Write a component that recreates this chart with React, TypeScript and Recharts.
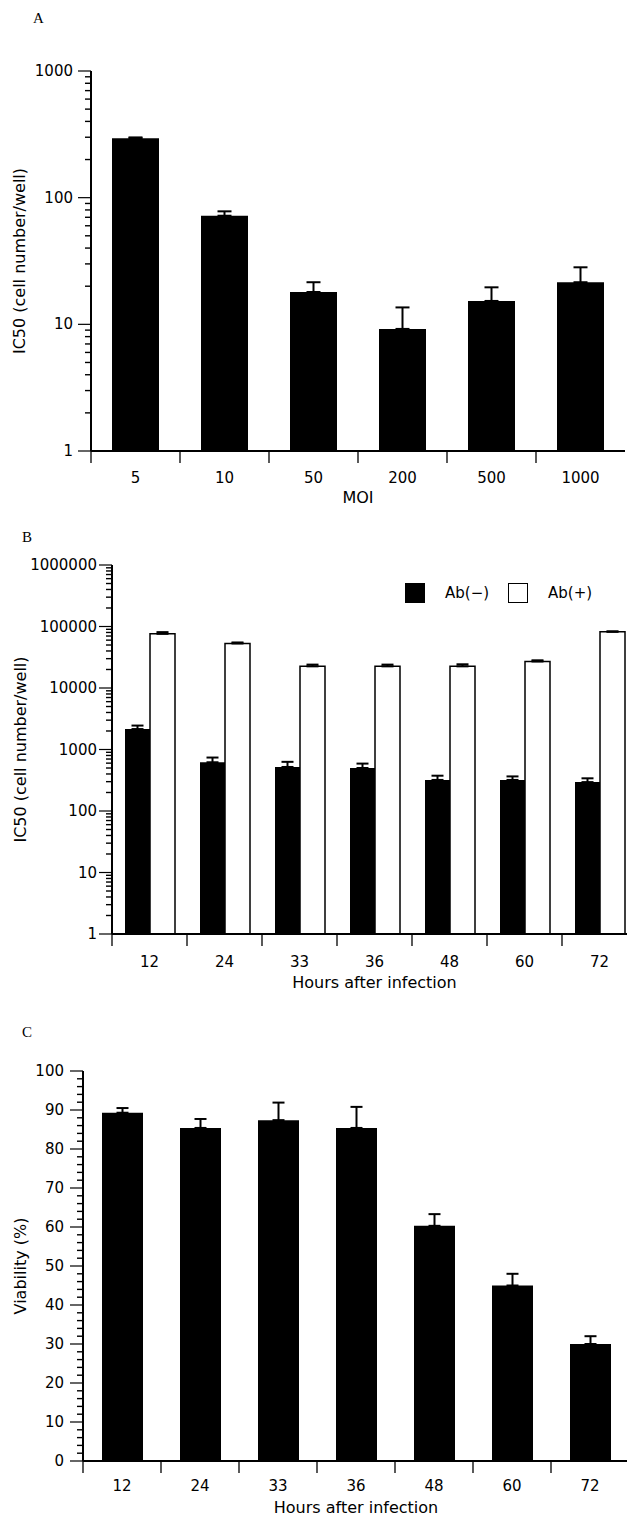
import React from "react";
import { BarChart, Bar, XAxis, YAxis, ErrorBar } from "recharts";

// Panel A: IC50 vs MOI
const MOI = ["5", "10", "50", "200", "500", "1000"];
const IC50_MOI = [295, 72, 18, 9.2, 15.3, 21.5];
const IC50_MOI_ERR = [4, 6, 3.5, 4.4, 4.3, 6.7];
const A_TICKS = [1, 10, 100, 1000];

// Panel B: IC50 vs hours, with/without antibody
const HOURS = ["12", "24", "33", "36", "48", "60", "72"];
const AB_NEG = [2150, 620, 520, 500, 320, 320, 295];
const AB_NEG_ERR = [300, 120, 110, 90, 55, 45, 45];
const AB_POS = [76000, 53000, 22500, 22500, 22500, 27000, 82000];
const AB_POS_ERR = [5000, 2000, 1500, 1500, 1800, 1200, 1500];
const B_TICKS = [1, 10, 100, 1000, 10000, 100000, 1000000];

// Panel C: viability vs hours
const VIABILITY = [89.3, 85.4, 87.4, 85.4, 60.3, 45, 30];
const VIABILITY_ERR = [1.2, 2.3, 4.5, 5.4, 3, 3, 2];
const C_TICKS = [0, 10, 20, 30, 40, 50, 60, 70, 80, 90, 100];

const FONT = "'DejaVu Sans', sans-serif";

function logMinors(maxExp: number) {
  const t: number[] = [];
  for (let e = 0; e < maxExp; e++) for (let k = 2; k <= 9; k++) t.push(k * 10 ** e);
  return t;
}
function linMinors(max: number, step: number, major: number) {
  const t: number[] = [];
  for (let v = step; v < max; v += step) if (v % major !== 0) t.push(v);
  return t;
}

const makeYTick = (left: number, majors: number[], gap: number) => (props: any) => {
  const { y, payload } = props;
  const major = majors.includes(payload.value);
  return (
    <g>
      <line
        x1={left - (major ? 13 : 6)}
        x2={left}
        y1={y}
        y2={y}
        stroke="#000"
        strokeWidth={major ? 1.2 : 1.4}
      />
      {major && (
        <text x={left - gap} y={y} textAnchor="end" dominantBaseline="central" fontSize={15} fontFamily={FONT} fill="#000">
          {payload.value}
        </text>
      )}
    </g>
  );
};

const makeXTick = (bottom: number, band: number, dy: number) => (props: any) => {
  const { x, payload } = props;
  const bx = x - band / 2;
  return (
    <g>
      <line x1={bx} x2={bx} y1={bottom} y2={bottom + 12} stroke="#000" strokeWidth={1.3} />
      <text x={x} y={bottom + dy} textAnchor="middle" dominantBaseline="central" fontSize={15} fontFamily={FONT} fill="#000">
        {payload.value}
      </text>
    </g>
  );
};

const axisLine = { stroke: "#000", strokeWidth: 2 };
const yTitle = (value: string, offset: number) => ({
  value,
  angle: -90,
  position: "insideLeft" as const,
  offset,
  fill: "#000",
  fontSize: 16,
  fontFamily: FONT,
  style: { textAnchor: "middle" },
});
const xTitle = (value: string, offset: number) => ({
  value,
  position: "insideTop" as const,
  offset,
  fill: "#000",
  fontSize: 16,
  fontFamily: FONT,
});

const letter = (t: string, left: number, top: number) => (
  <div style={{ position: "absolute", left, top, fontFamily: "'Liberation Serif', serif", fontSize: 15, lineHeight: "16px" }}>{t}</div>
);

export default function App() {
  const dataA = MOI.map((cat, i) => ({ cat, v: IC50_MOI[i], e: [0, IC50_MOI_ERR[i]] }));
  const dataB = HOURS.map((cat, i) => ({
    cat,
    neg: AB_NEG[i],
    negE: [0, AB_NEG_ERR[i]],
    pos: AB_POS[i],
    posE: [0, AB_POS_ERR[i]],
  }));
  const dataC = HOURS.map((cat, i) => ({ cat, v: VIABILITY[i], e: [0, VIABILITY_ERR[i]] }));

  // plot geometry (page pixels)
  const aLeft = 91, aBand = (625 - 91) / 6, aBottom = 451;
  const bLeft = 112, bBand = 75, bBottomLocal = 934 - 520;
  const cLeft = 83, cBand = 78, cBottomLocal = 1461 - 1000;

  return (
    <div
      style={{
        position: "absolute",
        left: 0,
        top: 0,
        width: 627,
        height: 1520,
        overflow: "hidden",
        background: "#fff",
        fontFamily: FONT,
      }}
    >
      {letter("A", 33, 10)}
      {letter("B", 22, 529)}
      {letter("C", 22, 1024)}

      <div style={{ position: "absolute", left: 0, top: 0 }}>
        <BarChart width={627} height={520} data={dataA} margin={{ top: 71, right: 2, bottom: 0, left: 0 }}>
          <XAxis xAxisId="top" orientation="top" dataKey="cat" height={0} tick={false} tickLine={false} axisLine={axisLine} />
          <YAxis yAxisId="right" orientation="right" width={0} domain={[0, 1]} tick={false} tickLine={false} axisLine={axisLine} />
          <XAxis
            dataKey="cat"
            height={69}
            interval={0}
            tickLine={false}
            axisLine={axisLine}
            tick={makeXTick(aBottom, aBand, 27)}
            label={xTitle("MOI", 41)}
          />
          <YAxis
            width={91}
            scale="log"
            domain={[1, 1000]}
            allowDataOverflow
            ticks={[...A_TICKS, ...logMinors(3)].sort((a, b) => a - b)}
            interval={0}
            tickLine={false}
            axisLine={axisLine}
            tick={makeYTick(aLeft, A_TICKS, 18)}
            label={yTitle("IC50 (cell number/well)", 19)}
          />
          <Bar dataKey="v" fill="#000" barSize={47} isAnimationActive={false}>
            <ErrorBar dataKey="e" direction="y" width={7} stroke="#000" strokeWidth={2} isAnimationActive={false} />
          </Bar>
        </BarChart>
      </div>

      <div style={{ position: "absolute", left: 0, top: 520 }}>
        <BarChart width={640} height={480} data={dataB} margin={{ top: 45, right: 3, bottom: 0, left: 0 }} barGap={0}>
          <XAxis xAxisId="top" orientation="top" dataKey="cat" height={0} tick={false} tickLine={false} axisLine={axisLine} />
          <XAxis
            dataKey="cat"
            height={66}
            interval={0}
            tickLine={false}
            axisLine={axisLine}
            tick={makeXTick(bBottomLocal, bBand, 28)}
            label={xTitle("Hours after infection", 43)}
          />
          <YAxis
            width={112}
            scale="log"
            domain={[1, 1000000]}
            allowDataOverflow
            ticks={[...B_TICKS, ...logMinors(6)].sort((a, b) => a - b)}
            interval={0}
            tickLine={false}
            axisLine={axisLine}
            tick={makeYTick(bLeft, B_TICKS, 15)}
            label={yTitle("IC50 (cell number/well)", 20)}
          />
          <Bar dataKey="neg" fill="#000" barSize={25} isAnimationActive={false}>
            <ErrorBar dataKey="negE" direction="y" width={6} stroke="#000" strokeWidth={2} isAnimationActive={false} />
          </Bar>
          <Bar dataKey="pos" fill="#fff" stroke="#000" strokeWidth={1.5} barSize={25} isAnimationActive={false}>
            <ErrorBar dataKey="posE" direction="y" width={6} stroke="#000" strokeWidth={2} isAnimationActive={false} />
          </Bar>
        </BarChart>
      </div>

      {/* legend for panel B */}
      <div style={{ position: "absolute", left: 405, top: 583, width: 20, height: 20, background: "#000" }} />
      <div style={{ position: "absolute", left: 445, top: 584, fontSize: 15, lineHeight: "18px" }}>Ab(−)</div>
      <div style={{ position: "absolute", left: 508, top: 583, width: 18, height: 18, border: "1.5px solid #000", background: "#fff" }} />
      <div style={{ position: "absolute", left: 548, top: 584, fontSize: 15, lineHeight: "18px" }}>Ab(+)</div>

      <div style={{ position: "absolute", left: 0, top: 1000 }}>
        <BarChart width={632} height={520} data={dataC} margin={{ top: 71, right: 3, bottom: 0, left: 0 }}>
          <XAxis xAxisId="top" orientation="top" dataKey="cat" height={0} tick={false} tickLine={false} axisLine={axisLine} />
          <XAxis
            dataKey="cat"
            height={59}
            interval={0}
            tickLine={false}
            axisLine={axisLine}
            tick={makeXTick(cBottomLocal, cBand, 25)}
            label={xTitle("Hours after infection", 41)}
          />
          <YAxis
            width={83}
            domain={[0, 100]}
            allowDataOverflow
            ticks={[...C_TICKS, ...linMinors(100, 2, 10)].sort((a, b) => a - b)}
            interval={0}
            tickLine={false}
            axisLine={axisLine}
            tick={makeYTick(cLeft, C_TICKS, 19)}
            label={yTitle("Viability (%)", 20)}
          />
          <Bar dataKey="v" fill="#000" barSize={41} isAnimationActive={false}>
            <ErrorBar dataKey="e" direction="y" width={6} stroke="#000" strokeWidth={2} isAnimationActive={false} />
          </Bar>
        </BarChart>
      </div>
    </div>
  );
}
